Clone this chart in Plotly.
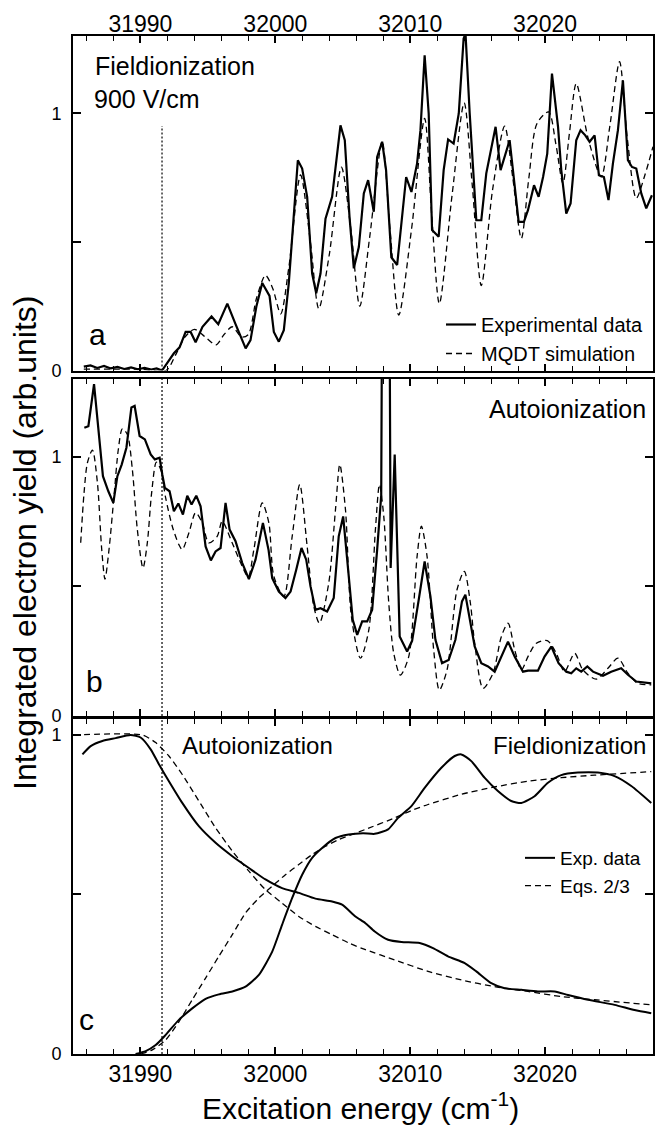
import plotly.graph_objects as go

# ---------------- data ----------------
# Panel a: field ionization, experimental data
exp_a_x = [31985.8, 31986.3, 31986.8, 31987.3, 31987.8, 31988.3, 31988.8, 31989.3, 31989.8,
           31990.3, 31990.8, 31991.2, 31991.6, 31992.0, 31992.48, 31992.9, 31993.35, 31993.72,
           31994.09, 31994.6, 31995.27, 31995.77, 31996.44, 31997.05, 31997.8, 31998.16, 31998.6,
           31999.03, 31999.57, 31999.89, 32000.26, 32000.63, 32001.0, 32001.67, 32001.99, 32002.36,
           32002.73, 32003.03, 32003.35, 32003.72, 32004.21, 32004.83, 32005.15, 32005.5, 32005.82,
           32006.19, 32006.56, 32006.88, 32007.3, 32007.55, 32007.92, 32008.21, 32008.6, 32009.03,
           32009.4, 32009.7, 32010.09, 32010.51, 32010.76, 32011.07, 32011.37, 32011.62, 32012.11,
           32012.48, 32012.81, 32013.22, 32013.6, 32013.96, 32014.1, 32014.41, 32014.9, 32015.27,
           32015.64, 32016.33, 32016.7, 32017.37, 32018.04, 32018.43, 32018.73, 32019.18, 32019.52,
           32019.85, 32020.16, 32020.51, 32020.96, 32021.2, 32021.57, 32021.89, 32022.31, 32022.63,
           32022.98, 32023.3, 32023.67, 32023.99, 32024.36, 32024.7, 32025.03, 32025.4, 32025.77,
           32026.14, 32026.44, 32026.76, 32027.13, 32027.5, 32027.92]
exp_a_y = [0.015, 0.02, 0.01, 0.018, 0.008, 0.014, 0.006, 0.012, 0.005,
           0.010, 0.004, 0.008, 0.0, 0.03, 0.067, 0.09, 0.15, 0.15,
           0.11, 0.17, 0.21, 0.18, 0.26, 0.18, 0.086, 0.118, 0.25,
           0.34, 0.29, 0.15, 0.112, 0.157, 0.34, 0.817, 0.785, 0.675,
           0.377, 0.30, 0.377, 0.59, 0.675, 0.953, 0.895, 0.597, 0.397,
           0.48, 0.688, 0.74, 0.617, 0.83, 0.889, 0.779, 0.44, 0.41,
           0.597, 0.752, 0.694, 0.805, 0.934, 1.225, 0.999, 0.546, 0.52,
           0.779, 0.898, 0.882, 0.999, 1.29, 1.31, 1.0, 0.584, 0.584,
           0.766, 0.947, 0.779, 0.895, 0.578, 0.578, 0.623, 0.72, 0.675,
           0.752, 0.843, 1.154, 0.947, 0.779, 0.61, 0.649, 0.895, 0.934,
           0.914, 0.889, 0.914, 0.759, 0.752, 0.662, 0.805, 0.934, 1.128,
           0.817, 0.791, 0.785, 0.688, 0.63, 0.681]

# Panel a: MQDT simulation
sim_a_x = [31985.8, 31988.0, 31990.0, 31991.9, 31992.6, 31993.3, 31994.0, 31994.8, 31995.6,
           31996.2, 31996.8, 31997.5, 31998.0, 31998.6, 31999.27, 31999.8, 32000.4, 32001.0,
           32001.87, 32002.6, 32003.22, 32004.0, 32004.9, 32005.6, 32006.26, 32007.0, 32007.92,
           32008.5, 32009.15, 32010.1, 32011.07, 32011.6, 32012.16, 32013.1, 32014.0, 32014.6,
           32015.27, 32016.1, 32017.0, 32017.6, 32018.24, 32018.8, 32019.4, 32020.26, 32020.8,
           32021.32, 32021.8, 32022.31, 32023.2, 32024.16, 32024.8, 32025.52, 32026.1, 32026.76,
           32027.4, 32028.0]
sim_a_y = [0.005, 0.005, 0.005, 0.0, 0.06, 0.13, 0.16, 0.13, 0.10,
           0.14, 0.17, 0.13, 0.14, 0.28, 0.37, 0.32, 0.22, 0.40,
           0.76, 0.50, 0.24, 0.45, 0.79, 0.55, 0.25, 0.52, 0.89,
           0.55, 0.215, 0.55, 0.98, 0.60, 0.26, 0.68, 1.04, 0.72,
           0.33, 0.70, 0.95, 0.75, 0.513, 0.75, 0.96, 1.005, 0.88,
           0.727, 0.92, 1.115, 0.90, 0.753, 0.95, 1.20, 0.90, 0.669,
           0.76, 0.87]

# Panel b: autoionization, experimental data
exp_b_x = [31985.84, 31986.14, 31986.56, 31986.93, 31987.22, 31987.62, 31987.99, 31988.29, 31988.61,
           31988.96, 31989.33, 31989.57, 31989.94, 31990.33, 31990.76, 31991.07, 31991.42, 31991.62,
           31991.81, 31992.16, 31992.48, 31992.81, 31993.15, 31993.47, 31993.79, 31994.14, 31994.46,
           31994.83, 31995.22, 31995.57, 31995.94, 31996.31, 31996.61, 31997.05, 31997.55, 31998.04,
           31998.53, 31999.08, 31999.5, 31999.77, 32000.26, 32000.75, 32001.13, 32001.55, 32001.94,
           32002.29, 32002.61, 32002.98, 32003.35, 32003.84, 32004.33, 32004.7, 32005.03, 32005.4,
           32005.74, 32006.07, 32006.44, 32006.81, 32007.18, 32007.55, 32007.85, 32008.2, 32008.55,
           32008.85, 32009.22, 32009.77, 32010.14, 32010.63, 32011.07, 32011.5, 32011.87, 32012.36,
           32012.85, 32013.35, 32013.84, 32014.09, 32014.41, 32014.78, 32015.27, 32015.77, 32016.26,
           32016.76, 32017.25, 32017.75, 32018.36, 32018.73, 32019.47, 32019.96, 32020.46, 32021.0,
           32021.57, 32021.94, 32022.31, 32022.68, 32023.13, 32023.55, 32024.29, 32024.9, 32025.64,
           32026.14, 32026.76, 32027.87]
exp_b_y = [1.112, 1.118, 1.28, 1.08, 0.925, 0.867, 0.822, 0.925, 0.97,
           1.035, 1.19, 1.196, 1.08, 1.067, 1.009, 0.99, 0.996, 0.932,
           0.88, 0.867, 0.79, 0.82, 0.777, 0.85, 0.816, 0.85, 0.809,
           0.654, 0.60, 0.635, 0.648, 0.822, 0.719, 0.674, 0.59, 0.528,
           0.603, 0.745, 0.64, 0.532, 0.48, 0.455, 0.48, 0.564, 0.648,
           0.603, 0.50, 0.41, 0.416, 0.403, 0.455, 0.693, 0.77, 0.564,
           0.371, 0.313, 0.365, 0.365, 0.41, 0.642, 0.85, 5.0, 0.571,
           1.009, 0.307, 0.249, 0.29, 0.448, 0.596, 0.461, 0.294, 0.204,
           0.216, 0.294, 0.442, 0.468, 0.371, 0.268, 0.204, 0.191, 0.171,
           0.229, 0.287, 0.229, 0.171, 0.175, 0.175, 0.229, 0.268, 0.204,
           0.171, 0.165, 0.184, 0.171, 0.191, 0.171, 0.155, 0.171, 0.184,
           0.159, 0.133, 0.126]

# Panel b: MQDT simulation
sim_b_x = [31985.57, 31985.82, 31986.07, 31986.44, 31986.81, 31987.13, 31987.37, 31987.67, 31988.04,
           31988.36, 31988.66, 31989.03, 31989.4, 31989.77, 31990.19, 31990.51, 31990.83, 31991.18,
           31991.5, 31991.87, 31992.36, 31992.85, 31993.1, 31993.59, 31994.09, 31994.58, 31995.07,
           31995.69, 31996.06, 31996.8, 31997.55, 31997.99, 31998.41, 31999.03, 31999.52, 31999.89,
           32000.63, 32001.25, 32001.81, 32002.36, 32002.85, 32003.27, 32003.96, 32004.46, 32004.78,
           32005.2, 32005.64, 32006.31, 32006.93, 32007.42, 32007.72, 32008.04, 32008.41, 32008.78,
           32009.27, 32009.89, 32010.51, 32010.83, 32011.25, 32011.74, 32012.16, 32012.73, 32013.47,
           32014.01, 32014.46, 32014.78, 32015.4, 32016.14, 32016.76, 32017.25, 32017.75, 32018.24,
           32018.73, 32019.35, 32020.16, 32020.83, 32021.44, 32022.19, 32022.8, 32023.79, 32024.66,
           32025.4, 32026.14, 32026.88, 32027.87]
sim_b_y = [0.668, 0.861, 0.977, 1.026, 0.90, 0.642, 0.528, 0.642, 0.848,
           1.028, 1.108, 1.086, 0.951, 0.719, 0.571, 0.668, 0.861, 0.979,
           0.951, 0.841, 0.732, 0.661, 0.642, 0.706, 0.784, 0.745, 0.668,
           0.693, 0.751, 0.668, 0.577, 0.536, 0.642, 0.822, 0.745, 0.539,
           0.461, 0.693, 0.893, 0.654, 0.423, 0.358, 0.513, 0.796, 0.97,
           0.796, 0.384, 0.223, 0.332, 0.719, 0.893, 0.77, 0.436, 0.242,
           0.158, 0.229, 0.616, 0.732, 0.616, 0.255, 0.10, 0.178, 0.487,
           0.558, 0.436, 0.281, 0.107, 0.165, 0.307, 0.358, 0.255, 0.178,
           0.229, 0.281, 0.291, 0.242, 0.171, 0.242, 0.178, 0.142, 0.184,
           0.223, 0.165, 0.126, 0.12]

# Panel c: integrated yields
auto_exp_x = [31985.7, 31986.31, 31987.18, 31988.16, 31989.27, 31990.01, 31990.76, 31991.37, 31992.11,
              31993.1, 31994.33, 31995.57, 31996.81, 31998.04, 31999.27, 32000.5, 32001.74, 32002.97,
              32004.21, 32004.95, 32005.94, 32006.68, 32007.37, 32008.36, 32009.35, 32010.7, 32011.69,
              32012.8, 32014.04, 32014.9, 32016.01, 32017.0, 32018.24, 32019.47, 32020.71, 32021.7,
              32023.18, 32025.15, 32026.63, 32027.87]
auto_exp_y = [0.939, 0.965, 0.981, 0.99, 1.0, 0.992, 0.955, 0.908, 0.855,
              0.787, 0.714, 0.662, 0.62, 0.583, 0.547, 0.52, 0.505, 0.487,
              0.478, 0.468, 0.431, 0.41, 0.384, 0.358, 0.351, 0.348, 0.332,
              0.306, 0.285, 0.259, 0.222, 0.206, 0.201, 0.196, 0.196, 0.185,
              0.17, 0.154, 0.138, 0.128]
field_exp_x = [31989.64, 31990.39, 31991.13, 31991.87, 31992.85, 31993.84, 31994.83, 31995.81, 31996.81,
               31997.79, 31998.78, 31999.77, 32000.5, 32001.25, 32001.99, 32002.73, 32003.47, 32004.46,
               32005.44, 32006.5, 32007.37, 32008.36, 32009.1, 32010.09, 32011.07, 32012.31, 32013.3,
               32013.79, 32014.53, 32015.51, 32016.5, 32017.49, 32018.24, 32019.22, 32020.21, 32021.2,
               32022.43, 32023.91, 32025.15, 32026.39, 32027.87]
field_exp_y = [0.0, 0.009, 0.028, 0.06, 0.107, 0.143, 0.173, 0.187, 0.196,
               0.211, 0.248, 0.321, 0.405, 0.489, 0.562, 0.615, 0.646, 0.677,
               0.688, 0.692, 0.69, 0.704, 0.74, 0.777, 0.834, 0.897, 0.934,
               0.939, 0.918, 0.866, 0.824, 0.793, 0.787, 0.808, 0.85, 0.874,
               0.882, 0.882, 0.871, 0.84, 0.787]
auto_eq_x = [31985.07, 31990.14, 31991.13, 31992.11, 31993.1, 31994.33, 31995.57, 31996.81, 31998.04,
             31999.27, 32000.5, 32001.74, 32002.97, 32004.21, 32005.44, 32006.68, 32008.85, 32011.32,
             32013.79, 32016.26, 32018.73, 32021.2, 32023.67, 32027.87]
auto_eq_y = [1.0, 1.0, 0.976, 0.934, 0.876, 0.793, 0.709, 0.636, 0.573,
             0.515, 0.473, 0.431, 0.40, 0.374, 0.348, 0.327, 0.295, 0.259,
             0.232, 0.211, 0.196, 0.18, 0.17, 0.154]
field_eq_x = [31990.01, 31990.88, 31991.87, 31992.85, 31993.84, 31994.83, 31995.81, 31996.81, 31997.79,
              31998.78, 31999.77, 32000.75, 32001.74, 32002.73, 32003.72, 32004.7, 32005.69, 32006.68,
              32008.85, 32010.09, 32011.32, 32013.79, 32016.26, 32018.73, 32021.2, 32023.67, 32027.87]
field_eq_y = [0.0, 0.013, 0.044, 0.101, 0.17, 0.238, 0.306, 0.374, 0.442,
              0.489, 0.526, 0.562, 0.594, 0.625, 0.651, 0.672, 0.688, 0.704,
              0.74, 0.763, 0.782, 0.814, 0.837, 0.855, 0.866, 0.874, 0.885]

# Threshold marker (dotted vertical line) and its extent per panel
threshold_x = 31991.6
threshold_top = [0.95, 1.3, 1.05]

x_ticks = [31990, 32000, 32010, 32020]
y_ticks = [0, 1]
y_labels = ["0", "1"]

# ---------------- figure ----------------
FONT = "Liberation Sans, Arial, Helvetica, sans-serif"
BLACK = "#000000"
W, H = 663, 1129
OFF = 8  # the page body adds an 8 px margin around the figure
# desired plot area in window pixels: x 73..653, y 36..1054
ML, MT = 73 - OFF, 36 - OFF
MR, MB = W - (653 - OFF), H - (1054 - OFF)

fig = go.Figure()

solid = dict(color=BLACK, width=2.2)
dashed = dict(color=BLACK, width=1.3, dash="6px,4px")

fig.add_trace(go.Scatter(x=exp_a_x, y=exp_a_y, mode="lines", line=solid,
                         name="Experimental data", xaxis="x", yaxis="y", legend="legend"))
fig.add_trace(go.Scatter(x=sim_a_x, y=sim_a_y, mode="lines", line=dict(dashed, shape="spline", smoothing=0.8),
                         name="MQDT simulation", xaxis="x", yaxis="y", legend="legend"))

fig.add_trace(go.Scatter(x=exp_b_x, y=exp_b_y, mode="lines", line=solid,
                         showlegend=False, xaxis="x2", yaxis="y2"))
fig.add_trace(go.Scatter(x=sim_b_x, y=sim_b_y, mode="lines", line=dict(dashed, shape="spline", smoothing=0.8),
                         showlegend=False, xaxis="x2", yaxis="y2"))

csolid = dict(color=BLACK, width=2.0, shape="spline", smoothing=0.6)
cdash = dict(color=BLACK, width=1.3, dash="6px,4px", shape="spline", smoothing=0.6)
fig.add_trace(go.Scatter(x=auto_exp_x, y=auto_exp_y, mode="lines", line=csolid,
                         name="Exp. data", xaxis="x3", yaxis="y3", legend="legend2"))
fig.add_trace(go.Scatter(x=auto_eq_x, y=auto_eq_y, mode="lines", line=cdash,
                         name="Eqs. 2/3", xaxis="x3", yaxis="y3", legend="legend2"))
fig.add_trace(go.Scatter(x=field_exp_x, y=field_exp_y, mode="lines", line=csolid,
                         showlegend=False, xaxis="x3", yaxis="y3"))
fig.add_trace(go.Scatter(x=field_eq_x, y=field_eq_y, mode="lines", line=cdash,
                         showlegend=False, xaxis="x3", yaxis="y3"))

for i, ax in enumerate(["", "2", "3"]):
    fig.add_trace(go.Scatter(x=[threshold_x, threshold_x], y=[0, threshold_top[i]], mode="lines",
                             line=dict(color=BLACK, width=1.2, dash="2px,2px"),
                             showlegend=False, hoverinfo="skip",
                             xaxis="x" + ax, yaxis="y" + ax))

plot_w = W - ML - MR
plot_h = H - MT - MB
def py(p):  # window pixel y -> paper fraction
    return (H - MB - (p - OFF)) / plot_h
def px(p):  # window pixel x -> paper fraction
    return ((p - OFF) - ML) / plot_w

xcommon = dict(range=[31985, 32028], showline=True, linewidth=2, linecolor=BLACK,
               mirror="allticks", ticks="inside", ticklen=7, tickwidth=1.5, tickcolor=BLACK,
               tickvals=x_ticks, tickformat="d", showgrid=False, zeroline=False, automargin=False,
               minor=dict(dtick=2, tick0=31986, ticks="inside", ticklen=5, tickwidth=1.2, tickcolor=BLACK),
               tickfont=dict(family=FONT, size=23, color=BLACK))
ycommon = dict(showline=True, linewidth=2, linecolor=BLACK, mirror="allticks",
               ticks="inside", ticklen=8, tickwidth=1.5, tickcolor=BLACK,
               tickvals=y_ticks, ticktext=y_labels, showgrid=False, zeroline=False, automargin=False,
               minor=dict(dtick=0.5, tick0=0, ticks="inside", ticklen=8, tickwidth=1.5, tickcolor=BLACK),
               tickfont=dict(family=FONT, size=18, color=BLACK), ticklabelstandoff=6)

fig.update_layout(
    width=W, height=H,
    margin=dict(l=ML, r=MR, t=MT, b=MB, autoexpand=False),
    paper_bgcolor="white", plot_bgcolor="white",
    font=dict(family=FONT, color=BLACK),
    xaxis=dict(xcommon, anchor="y", side="top", ticklabelstandoff=-7),
    xaxis2=dict(xcommon, anchor="y2", showticklabels=False),
    xaxis3=dict(xcommon, anchor="y3", ticklabelstandoff=-2),
    yaxis=dict(ycommon, domain=[py(370.5), 1.0], range=[0, 1.3], anchor="x"),
    yaxis2=dict(ycommon, domain=[py(716), py(379)], range=[0, 1.3], anchor="x2"),
    yaxis3=dict(ycommon, domain=[0.0, py(719)], range=[0, 1.05], anchor="x3"),
    legend=dict(x=px(649), xanchor="right", y=py(305), yanchor="top",
                bgcolor="rgba(0,0,0,0)", font=dict(family=FONT, size=20, color=BLACK),
                tracegroupgap=0),
    legend2=dict(x=px(646), xanchor="right", y=py(839), yanchor="top",
                 bgcolor="rgba(0,0,0,0)", font=dict(family=FONT, size=19, color=BLACK),
                 tracegroupgap=0),
    showlegend=True,
)

def label(text, x, y, size, xanchor="left", angle=0):
    fig.add_annotation(text=text, x=x, y=y, xref="paper", yref="paper", showarrow=False,
                       xanchor=xanchor, yanchor="middle", textangle=angle,
                       font=dict(family=FONT, size=size, color=BLACK))

label("Fieldionization", px(93), py(66), 25)
label("900 V/cm", px(92), py(99.5), 25)
label("a", px(97), py(334.6), 30, "center")
label("b", px(94.5), py(681.6), 30, "center")
label("c", px(86.5), py(1019.6), 30, "center")
label("Autoionization", px(648), py(409.3), 25, "right")
label("Autoionization", px(180), py(745.3), 24)
label("Fieldionization", px(648), py(745.3), 24, "right")
label("Integrated electron yield (arb.units)", px(25), py(543), 32, "center", -90)
label("Excitation energy (cm<sup>-1</sup>)", px(360), py(1106), 30, "center")

fig.write_html("out.html")
